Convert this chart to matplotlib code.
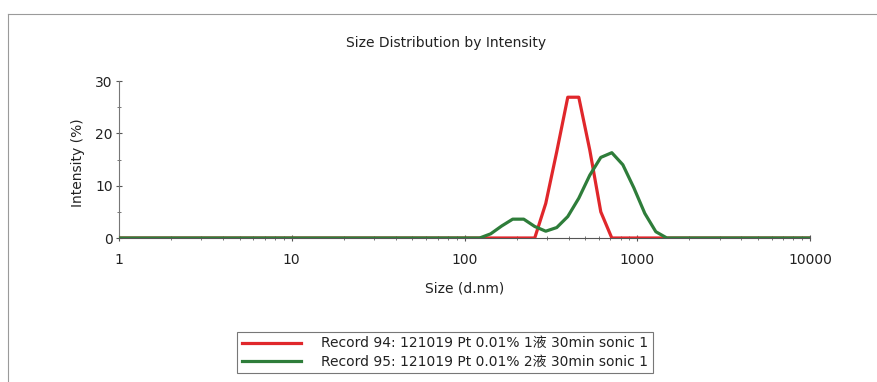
import numpy as np
import matplotlib
matplotlib.use("Agg")
import matplotlib.pyplot as plt
from matplotlib.lines import Line2D
from matplotlib.ticker import LogLocator, NullFormatter, FixedLocator

# Size bins (d.nm) (Malvern-style log bins)
sizes = [1.0, 100.0, 122.4, 141.8, 164.2, 190.1, 220.2, 255.0, 295.3, 342.0,
         396.1, 458.7, 531.2, 615.1, 712.4, 825.0, 955.4, 1106.0, 1281.0,
         1484.0, 10000.0]
record94 = [0, 0, 0, 0, 0, 0, 0, 0, 6.6, 16.5,
            26.9, 26.9, 16.8, 5.0, 0, 0, 0, 0, 0,
            0, 0]
record95 = [0, 0, 0, 0.8, 2.3, 3.6, 3.6, 2.2, 1.3, 2.0,
            4.1, 7.6, 12.0, 15.4, 16.3, 14.0, 9.6, 4.7, 1.2,
            0, 0]
labels = ["Record 94: 121019 Pt 0.01% 1液 30min sonic 1",
          "Record 95: 121019 Pt 0.01% 2液 30min sonic 1"]
xticks = [1, 10, 100, 1000, 10000]
yticks = [0, 10, 20, 30]

FONT = ["DejaVu Sans", "Noto Sans CJK SC"]
plt.rcParams['font.family'] = FONT

W, H = 878, 382
fig = plt.figure(figsize=(W / 100, H / 100), dpi=100)

ax = fig.add_axes([119 / W, 1 - 238 / H, (810 - 119) / W, (238 - 81) / H])
red = '#e0272b'
green = '#2e7d3a'
ax.plot(sizes, record94, color=red, lw=2.3, zorder=3)
ax.plot(sizes, record95, color=green, lw=2.3, zorder=4)

ax.set_xscale('log')
ax.set_xlim(1, 10000)
ax.set_ylim(0, 30)
ax.set_xticks(xticks)
ax.set_xticklabels([str(t) for t in xticks])
ax.xaxis.set_minor_locator(LogLocator(base=10, subs=np.arange(2, 10)))
ax.xaxis.set_minor_formatter(NullFormatter())
ax.set_yticks(yticks)
ax.yaxis.set_minor_locator(FixedLocator([5, 15, 25]))

for s in ['top', 'right']:
    ax.spines[s].set_visible(False)
ax.spines['left'].set_color('#777777')
ax.spines['bottom'].set_color('#555555')
ax.spines['left'].set_linewidth(0.8)
ax.spines['bottom'].set_linewidth(0.8)
ax.tick_params(axis='both', which='major', labelsize=10, colors='#555555',
               labelcolor='#222222', direction='inout', length=5, width=0.8)
ax.tick_params(axis='both', which='minor', colors='#777777', direction='inout',
               length=3, width=0.7)
ax.tick_params(axis='x', pad=8)
ax.tick_params(axis='y', pad=2)

fig.text(446.5 / W, 1 - 43 / H, "Size Distribution by Intensity", ha='center',
         va='center', fontsize=10, color='#222222')
fig.text(465 / W, 1 - 288 / H, "Size (d.nm)", ha='center', va='center',
         fontsize=10, color='#222222')
fig.text(78 / W, 1 - 163 / H, "Intensity (%)", ha='center', va='center',
         rotation=90, fontsize=10, color='#222222')

# outer frame (top and left only)
fig.add_artist(Line2D([8 / W, 1], [1 - 14 / H, 1 - 14 / H], color='#9a9a9a', lw=0.8))
fig.add_artist(Line2D([8 / W, 8 / W], [0, 1 - 14 / H], color='#9a9a9a', lw=0.8))

handles = [Line2D([], [], color=red, lw=2.3), Line2D([], [], color=green, lw=2.3)]
leg = fig.legend(handles, labels, loc='center', bbox_to_anchor=(445 / W, 1 - 352.5 / H),
                 frameon=True, fancybox=False, fontsize=10, handlelength=4.25,
                 handletextpad=1.45, borderpad=0.35, labelspacing=0.3,
                 borderaxespad=0)
leg.get_frame().set_edgecolor('#555555')
leg.get_frame().set_linewidth(0.8)
for t in leg.get_texts():
    t.set_color('#222222')

fig.savefig('out.png', dpi=100)
